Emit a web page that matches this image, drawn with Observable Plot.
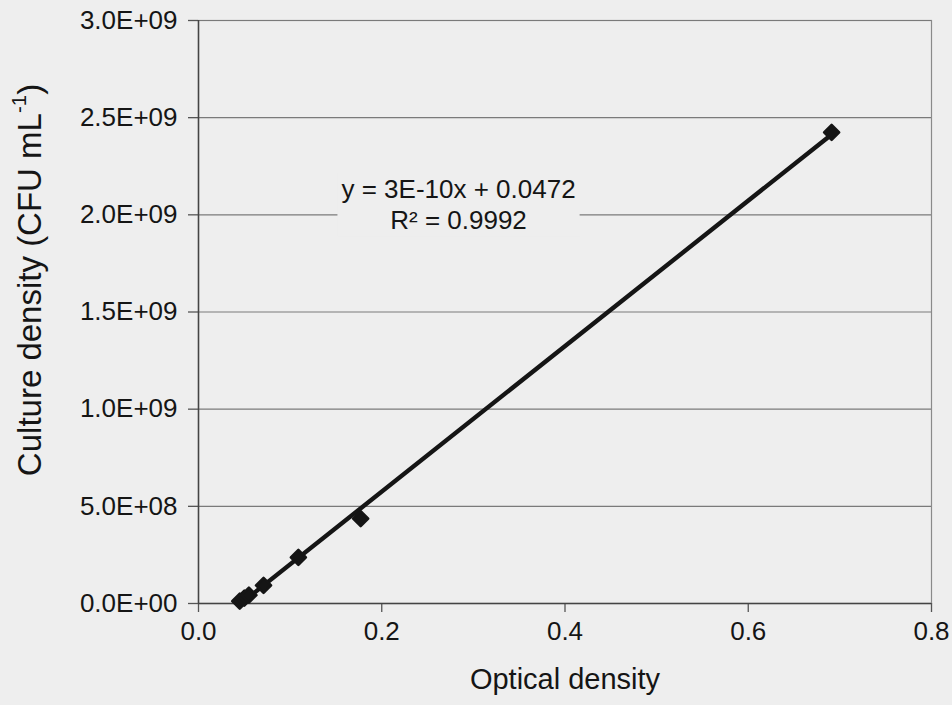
<!DOCTYPE html>
<html>
<head>
<meta charset="utf-8">
<script src="https://cdn.jsdelivr.net/npm/d3@7"></script>
<script src="https://cdn.jsdelivr.net/npm/@observablehq/plot@0.6"></script>
<style>
  html, body { margin: 0; padding: 0; background: #eeeeee; }
  #chart svg { display: block; }
</style>
</head>
<body>
<div id="chart"></div>
<script>
// ---- data ----
const opticalDensity = [0.045, 0.050, 0.055, 0.071, 0.109, 0.177, 0.691];
const cultureDensity = [0.012e9, 0.028e9, 0.043e9, 0.093e9, 0.237e9, 0.437e9, 2.424e9];

const xTicks = [0, 0.2, 0.4, 0.6, 0.8];
const xTickLabels = ["0.0", "0.2", "0.4", "0.6", "0.8"];
const yTicks = [0, 0.5e9, 1.0e9, 1.5e9, 2.0e9, 2.5e9, 3.0e9];
const yTickLabels = ["0.0E+00", "5.0E+08", "1.0E+09", "1.5E+09", "2.0E+09", "2.5E+09", "3.0E+09"];

const xTitle = "Optical density";
const yTitle = "Culture density (CFU mL-1)";
const equationLines = ["y = 3E-10x + 0.0472", "R\u00B2 = 0.9992"];
const equationAnchor = {x: 0.2838, y: 2.058e9};

const points = opticalDensity.map((od, i) => ({od, cfu: cultureDensity[i]}));

const BG = "#eeeeee";
const INK = "#151515";
const FONT = "'Liberation Sans', Arial, Helvetica, sans-serif";

const chart = Plot.plot({
  width: 952,
  height: 705,
  marginLeft: 198,
  marginRight: 21,
  marginTop: 20,
  marginBottom: 102,
  style: {fontFamily: FONT, fontSize: "26px", background: BG, color: INK, overflow: "visible"},
  x: {domain: [0, 0.8]},
  y: {domain: [0, 3e9]},
  marks: [
    Plot.frame({stroke: "#8a8a8a", strokeWidth: 1.2}),
    Plot.gridY(yTicks, {stroke: "#7a7a7a", strokeOpacity: 1, strokeWidth: 1.2}),
    Plot.axisY(yTicks, {
      tickSize: 10, tickPadding: 11, stroke: "#555", strokeWidth: 1.3,
      tickFormat: (d) => yTickLabels[yTicks.indexOf(d)],
      label: null, fontSize: 26, fill: INK
    }),
    Plot.axisX(xTicks, {
      tickSize: 9, tickPadding: 9, stroke: "#555", strokeWidth: 1.3,
      tickFormat: d => xTickLabels[xTicks.indexOf(d)],
      label: null, fontSize: 26, fill: INK
    }),
    Plot.ruleX([0], {stroke: "#444", strokeWidth: 1.5}),
    Plot.ruleY([0], {stroke: "#444", strokeWidth: 1.5}),
    Plot.linearRegressionY(points, {x: "od", y: "cfu", ci: 0, stroke: INK, strokeWidth: 4.4}),
    Plot.dot(points, {x: "od", y: "cfu", symbol: "diamond2", r: 6.8, fill: INK, stroke: INK, strokeWidth: 2.5, strokeLinejoin: "round"}),
    Plot.text([equationLines.join("\n")], {
      x: equationAnchor.x, y: equationAnchor.y, fontSize: 26, lineHeight: 1.18,
      textAnchor: "middle", lineAnchor: "middle", fill: INK, className: "eq-label"
    }),
    Plot.text([xTitle], {frameAnchor: "bottom", dy: 76, fontSize: 29, fill: INK, textAnchor: "middle", lineAnchor: "middle"}),
    Plot.text([yTitle], {frameAnchor: "left", dx: -168, dy: -32, rotate: -90, fontSize: 33, fill: INK, textAnchor: "middle", lineAnchor: "middle", className: "y-title"})
  ]
});

document.getElementById("chart").appendChild(chart);

// superscript "-1" in the y title
d3.select(chart).selectAll("text").each(function() {
  const t = d3.select(this);
  if (t.text() === yTitle) {
    t.text(null);
    t.append("tspan").text("Culture density (CFU mL");
    t.append("tspan").attr("font-size", "0.62em").attr("dy", "-0.75em").text("-1");
    t.append("tspan").attr("dy", "0.465em").text(")");
  }
});

// box behind the equation (Excel-style label background hiding the gridline)
const eqG = d3.select(chart).select("g.eq-label");
if (!eqG.empty()) {
  const bb = eqG.node().getBBox();
  const ctm = eqG.attr("transform");
  d3.select(eqG.node().parentNode).insert("rect", () => eqG.node())
    .attr("x", bb.x - 4).attr("y", bb.y - 2)
    .attr("width", bb.width + 8).attr("height", bb.height + 4)
    .attr("fill", BG)
    .attr("transform", ctm);
}
</script>
</body>
</html>
